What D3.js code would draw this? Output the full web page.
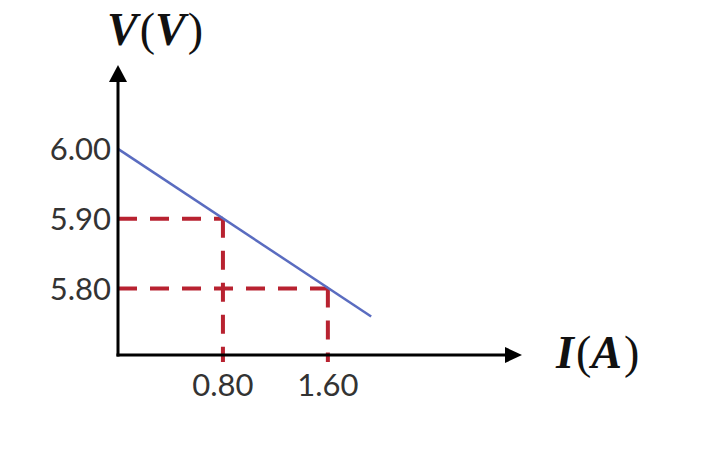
<!DOCTYPE html>
<html>
<head>
<meta charset="utf-8">
<script src="https://cdn.jsdelivr.net/npm/d3@7"></script>
<style>
  html, body { margin: 0; padding: 0; background: #fff; }
  svg { display: block; }
</style>
</head>
<body>
<div id="chart"></div>
<script>
// terminal voltage vs current
var currents = [0, 1.93];
var voltages = [6.00, 5.76];

// points marked with dashed guides
var markI = [0.80, 1.60];
var markV = [5.90, 5.80];

var yTicks = [6.00, 5.90, 5.80];
var xTicks = [0.80, 1.60];

var W = 701, H = 453;

var svg = d3.select('#chart').append('svg')
  .attr('width', W)
  .attr('height', H);

// axis extents in data units (origin bottom-left, arrow tips)
var x = d3.scaleLinear().domain([0, 3.08]).range([118, 522]);
var y = d3.scaleLinear().domain([5.705, 6.12]).range([355, 65]);

var red = '#b82230', blue = '#5a6cc0';

// dashed guides
var guides = svg.append('g');
markI.forEach(function (iv, k) {
  guides.append('line')
    .attr('x1', x(0)).attr('y1', y(markV[k]))
    .attr('x2', x(iv)).attr('y2', y(markV[k]))
    .attr('stroke', red).attr('stroke-width', 4)
    .attr('stroke-dasharray', '19,13');
  guides.append('line')
    .attr('x1', x(iv)).attr('y1', y(markV[k]))
    .attr('x2', x(iv)).attr('y2', y.range()[0] + 7)
    .attr('stroke', red).attr('stroke-width', 4)
    .attr('stroke-dasharray', '19,13');
});

// V-I line
var pts = currents.map(function (c, i) { return [c, voltages[i]]; });
svg.append('path')
  .datum(pts)
  .attr('d', d3.line().x(function (d) { return x(d[0]); }).y(function (d) { return y(d[1]); }))
  .attr('fill', 'none')
  .attr('stroke', blue)
  .attr('stroke-width', 2.5);

// axes with arrows
var x0 = x(0), y0 = y.range()[0];
var xEnd = x.range()[1], yEnd = y.range()[1];
svg.append('line')
  .attr('x1', x0).attr('y1', y0 + 1.5)
  .attr('x2', x0).attr('y2', yEnd + 14)
  .attr('stroke', '#000').attr('stroke-width', 3);
svg.append('line')
  .attr('x1', x0 - 1.5).attr('y1', y0)
  .attr('x2', xEnd - 14).attr('y2', y0)
  .attr('stroke', '#000').attr('stroke-width', 3);
svg.append('path')
  .attr('d', 'M' + x0 + ',' + yEnd + 'L' + (x0 - 9) + ',' + (yEnd + 17) + 'L' + (x0 + 9) + ',' + (yEnd + 17) + 'Z')
  .attr('fill', '#000');
svg.append('path')
  .attr('d', 'M' + xEnd + ',' + y0 + 'L' + (xEnd - 17) + ',' + (y0 - 8) + 'L' + (xEnd - 17) + ',' + (y0 + 8) + 'Z')
  .attr('fill', '#000');

// tick labels
var tickFont = 'Lato, "Open Sans", sans-serif';
svg.append('g').selectAll('text')
  .data(yTicks)
  .enter().append('text')
  .attr('x', x0 - 7)
  .attr('y', function (d) { return y(d); })
  .attr('dy', '0.36em')
  .attr('text-anchor', 'end')
  .style('font-family', tickFont)
  .style('font-size', '31px')
  .style('fill', '#333')
  .text(function (d) { return d3.format('.2f')(d); });

svg.append('g').selectAll('text')
  .data(xTicks)
  .enter().append('text')
  .attr('x', function (d) { return x(d); })
  .attr('y', y0 + 41)
  .attr('text-anchor', 'middle')
  .style('font-family', tickFont)
  .style('font-size', '31px')
  .style('fill', '#333')
  .text(function (d) { return d3.format('.2f')(d); });

// axis titles: bold italic symbol, upright parentheses
function axisTitle(tx, ty, sym, unit) {
  var t = svg.append('text')
    .attr('x', tx).attr('y', ty)
    .style('font-family', '"Liberation Serif", "DejaVu Serif", serif')
    .style('font-size', '46px')
    .style('fill', '#111');
  t.append('tspan').style('font-weight', 'bold').style('font-style', 'italic').text(sym);
  t.append('tspan').attr('dx', 2).text('(');
  t.append('tspan').style('font-weight', 'bold').style('font-style', 'italic').text(unit);
  t.append('tspan').attr('dx', 2).text(')');
}
axisTitle(107, 45, 'V', 'V');
axisTitle(556, 368, 'I', 'A');
</script>
</body>
</html>
